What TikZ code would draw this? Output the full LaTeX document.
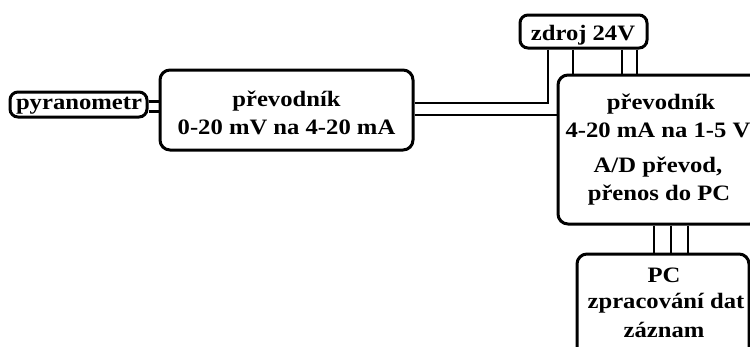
\documentclass[tikz,border=0pt]{standalone}
\usepackage{fontspec}
\newfontfamily\lbfont{Liberation Serif}[FakeStretch=1.12]
\tikzset{
  box/.style={draw=black, line width=3pt, rounded corners=8pt, fill=white, inner sep=0pt},
  lbl/.style={font=\lbfont\bfseries\fontsize{22}{26}\selectfont, inner sep=0pt, anchor=base},
  wire/.style={draw=black, line width=2.8pt}
}
\begin{document}
\begin{tikzpicture}[x=1pt,y=-1pt]
\useasboundingbox[fill=white] (0,0) rectangle (750,346);
% boxes
\node[box, minimum width=137pt, minimum height=25pt] (pyr) at (78.5,104.5) {};
\node[box, rounded corners=10pt, minimum width=253pt, minimum height=80pt] (b1) at (286.5,110) {};
\node[box, minimum width=127pt, minimum height=33pt] (zdroj) at (583.5,31.5) {};
\node[box, rounded corners=10pt, minimum width=202pt, minimum height=149pt] (b2) at (659,149.5) {};
\node[box, rounded corners=10pt, minimum width=172pt, minimum height=120pt] (pc) at (663,314) {};
% connectors
\draw[wire] (pyr.east |- 0,101.5) -- (b1.west |- 0,101.5);
\draw[wire] (pyr.east |- 0,111.5) -- (b1.west |- 0,111.5);
\draw[wire] (zdroj.south -| 548,0) -- (548,103) -- (b1.east |- 0,103);
\draw[wire] (b1.east |- 0,115) -- (b2.west |- 0,115);
\draw[wire] (zdroj.south -| 573,0) -- (b2.north -| 573,0);
\draw[wire] (zdroj.south -| 622,0) -- (b2.north -| 622,0);
\draw[wire] (zdroj.south -| 637,0) -- (b2.north -| 637,0);
\draw[wire] (b2.south -| 654,0) -- (pc.north -| 654,0);
\draw[wire] (b2.south -| 671,0) -- (pc.north -| 671,0);
\draw[wire] (b2.south -| 688,0) -- (pc.north -| 688,0);
% labels
\node[lbl] (tpyr) at (79,109.5) {pyranometr};
\node[lbl] (tb1a) at (286.5,106) {převodník};
\node[lbl] (tb1b) at (286.5,134) {0-20 mV na 4-20 mA};
\node[lbl] (tz) at (583,40) {zdroj 24V};
\node[lbl] (tb2a) at (661,109) {převodník};
\node[lbl] (tb2b) at (658,137) {4-20 mA na 1-5 V};
\node[lbl] (tb2c) at (658,172) {A/D převod,};
\node[lbl] (tb2d) at (659,200) {přenos do PC};
\node[lbl] (tpca) at (664,282) {PC};
\node[lbl] (tpcb) at (666,308) {zpracování dat};
\node[lbl] (tpcc) at (664,337) {záznam};
\end{tikzpicture}
\end{document}
